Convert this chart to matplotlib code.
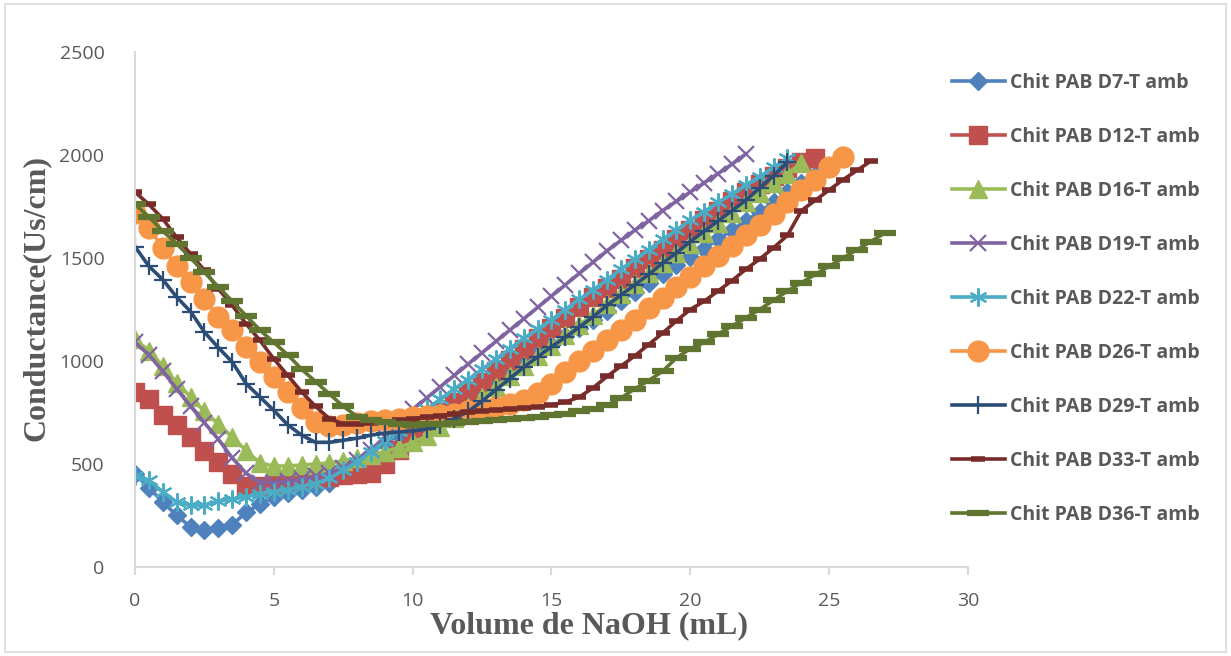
import matplotlib
matplotlib.use("Agg")
import matplotlib.pyplot as plt
from matplotlib.patches import Rectangle

# titration volume steps (mL), shared by every run
volume = [0, 0.5, 1, 1.5, 2, 2.5, 3, 3.5, 4, 4.5, 5, 5.5, 6, 6.5, 7, 7.5, 8, 8.5, 9, 9.5,
          10, 10.5, 11, 11.5, 12, 12.5, 13, 13.5, 14, 14.5, 15, 15.5, 16, 16.5, 17, 17.5,
          18, 18.5, 19, 19.5, 20, 20.5, 21, 21.5, 22, 22.5, 23, 23.5, 24, 24.5, 25, 25.5,
          26, 26.5, 27]

d7 = [450, 385, 315, 250, 195, 178, 190, 205, 265, 305, 340, 360, 375, 390, 410, 450,
      500, 550, 600, 640, 680, 715, 750, 790, 830, 870, 910, 955, 1000, 1040, 1080, 1120,
      1160, 1200, 1245, 1290, 1335, 1380, 1420, 1465, 1505, 1545, 1590, 1635, 1680, 1725,
      1770, 1820, 1865, 1905]
d12 = [850, 815, 740, 690, 630, 565, 510, 450, 395, 395, 405, 415, 425, 432, 438, 445,
       450, 458, 500, 570, 640, 700, 750, 800, 850, 900, 950, 1005, 1060, 1110, 1160, 1210,
       1260, 1310, 1355, 1400, 1450, 1495, 1540, 1590, 1635, 1685, 1730, 1775, 1820, 1860,
       1900, 1935, 1965, 1985]
d16 = [1105, 1050, 975, 895, 825, 755, 695, 630, 565, 505, 490, 490, 495, 500, 505, 515,
       530, 545, 560, 580, 605, 635, 680, 725, 775, 825, 875, 925, 975, 1025, 1075, 1125,
       1175, 1225, 1275, 1325, 1375, 1425, 1475, 1525, 1570, 1620, 1670, 1720, 1770, 1815,
       1865, 1910, 1960]
d19 = [1090, 1030, 950, 865, 780, 700, 620, 530, 455, 410, 410, 415, 425, 440, 455, 480,
       520, 570, 630, 700, 765, 820, 875, 930, 985, 1040, 1095, 1150, 1205, 1260, 1315,
       1370, 1425, 1480, 1535, 1585, 1635, 1680, 1730, 1775, 1820, 1865, 1910, 1955, 2005]
d22 = [440, 420, 365, 315, 300, 300, 320, 330, 340, 355, 365, 375, 390, 405, 430, 470,
       510, 560, 610, 660, 710, 765, 815, 865, 910, 960, 1010, 1060, 1110, 1155, 1200, 1250,
       1300, 1345, 1395, 1445, 1495, 1540, 1590, 1635, 1685, 1725, 1770, 1810, 1855, 1895,
       1940, 1985]
d26 = [1720, 1645, 1550, 1460, 1385, 1300, 1215, 1150, 1070, 995, 920, 850, 770, 705, 685,
       690, 700, 710, 715, 720, 730, 735, 740, 745, 755, 765, 775, 790, 810, 845, 890, 945,
       1000, 1050, 1100, 1150, 1200, 1255, 1305, 1360, 1410, 1460, 1510, 1560, 1610, 1660,
       1715, 1770, 1830, 1880, 1940, 1990]
d29 = [1555, 1460, 1395, 1310, 1240, 1140, 1065, 995, 890, 825, 760, 690, 640, 605, 605,
       615, 625, 640, 650, 655, 660, 670, 690, 720, 755, 805, 860, 915, 970, 1020, 1070,
       1115, 1165, 1215, 1270, 1320, 1370, 1420, 1475, 1525, 1580, 1630, 1680, 1730, 1780,
       1840, 1900, 1965]
d33 = [1820, 1760, 1690, 1600, 1520, 1440, 1350, 1270, 1180, 1100, 1010, 930, 850, 780,
       720, 695, 695, 700, 705, 712, 720, 728, 735, 742, 750, 757, 763, 768, 773, 778, 788,
       800, 825, 870, 925, 975, 1025, 1080, 1135, 1195, 1250, 1290, 1340, 1390, 1445, 1495,
       1550, 1610, 1730, 1780, 1830, 1880, 1925, 1970]
d36 = [1760, 1700, 1630, 1570, 1500, 1430, 1360, 1290, 1220, 1150, 1090, 1030, 960, 900,
       840, 780, 730, 715, 705, 695, 690, 692, 695, 700, 705, 710, 715, 720, 725, 730, 737,
       745, 755, 765, 785, 820, 865, 905, 950, 1015, 1060, 1090, 1130, 1170, 1210, 1250,
       1295, 1340, 1380, 1420, 1460, 1500, 1540, 1580, 1620]

labels = ["Chit PAB D7-T amb", "Chit PAB D12-T amb", "Chit PAB D16-T amb",
          "Chit PAB D19-T amb", "Chit PAB D22-T amb", "Chit PAB D26-T amb",
          "Chit PAB D29-T amb", "Chit PAB D33-T amb", "Chit PAB D36-T amb"]
runs = [d7, d12, d16, d19, d22, d26, d29, d33, d36]

# colour, marker, marker size, marker edge width
styles = [
    ("#4F81BD", "D", 9, 1.0),
    ("#C0504D", "s", 13, 1.0),
    ("#9BBB59", "^", 13, 1.0),
    ("#8064A2", "x", 11, 1.6),
    ("#4BACC6", (6, 2, 0), 13, 1.6),
    ("#F79646", "o", 15, 1.0),
    ("#2C4D75", "+", 13, 1.6),
    ("#772C2A", "_", 10, 4.0),
    ("#5F7530", "_", 16, 4.5),
]

gray = "#595959"
fig = plt.figure(figsize=(12.31, 6.56), dpi=100)
ax = fig.add_axes([0.1097, 0.1357, 0.6766, 0.785])

for y, lab, (c, m, ms, mew) in zip(runs, labels, styles):
    ax.plot(volume[:len(y)], y, color=c, lw=2.6, marker=m, ms=ms,
            mfc=c, mec=c, mew=mew, label=lab)

ax.set_xlim(0, 30)
ax.set_ylim(0, 2500)
ax.set_xticks(range(0, 31, 5))
ax.set_yticks(range(0, 2501, 500))

for s in ["top", "right"]:
    ax.spines[s].set_visible(False)
for s in ["left", "bottom"]:
    ax.spines[s].set_color("#d9d9d9")
    ax.spines[s].set_linewidth(1.5)

ax.tick_params(axis="x", length=6, width=1.5, color="#d9d9d9", direction="out",
               pad=12, labelsize=14, labelcolor=gray)
ax.tick_params(axis="y", length=0, pad=22, labelsize=14, labelcolor=gray)
for t in ax.get_xticklabels() + ax.get_yticklabels():
    t.set_fontfamily("Open Sans")

ax.set_xlabel("Volume de NaOH (mL)", fontfamily="Liberation Serif",
              fontweight="bold", fontsize=23, color=gray)
ax.xaxis.set_label_coords(0.545, -0.085)
ax.set_ylabel("Conductance(Us/cm)", fontfamily="Liberation Serif",
              fontweight="bold", fontsize=23, color=gray)
ax.yaxis.set_label_coords(-0.101, 0.522)

leg = ax.legend(loc="upper left", bbox_to_anchor=(0.971, 0.975), frameon=False,
                prop={"family": "Open Sans", "weight": "bold", "size": 14},
                labelspacing=1.75, handlelength=2.73, handletextpad=0.26,
                borderaxespad=0)
for t in leg.get_texts():
    t.set_color(gray)

# thin border around the whole chart area
fig.patches.append(Rectangle((0.004, 0.006), 0.992, 0.988, transform=fig.transFigure,
                             fill=False, edgecolor="#d9d9d9", lw=1.2))

fig.savefig("out.png", dpi=100)
